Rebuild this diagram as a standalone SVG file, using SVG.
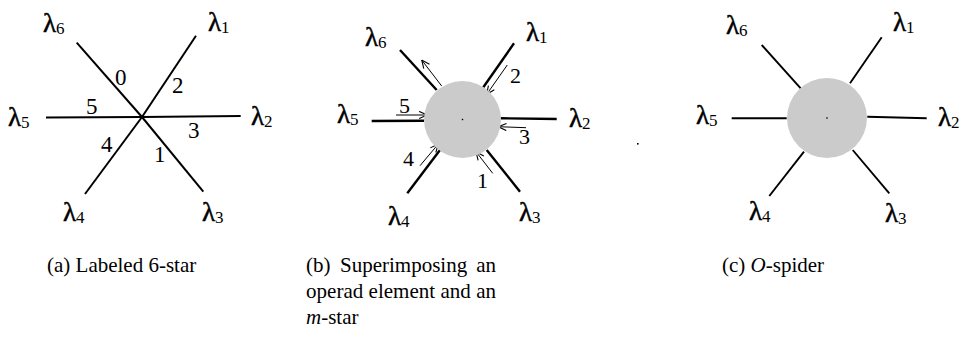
<svg xmlns="http://www.w3.org/2000/svg" width="962" height="354" viewBox="0 0 962 354">
<style>
text{font-family:"Liberation Serif","DejaVu Serif","Noto Serif",serif;fill:#000}
.lam{font-size:27px;stroke:#000;stroke-width:0.5}
.sub{font-size:17px;stroke:none}
.num{font-size:23px}
.numb{font-size:22px}
.cap{font-size:21px}
.ea{stroke:#000;stroke-width:2;fill:none}
.eb{stroke:#000;stroke-width:2.4;fill:none}
.ec{stroke:#000;stroke-width:1.9;fill:none}
.ar{stroke:#000;stroke-width:1;fill:none;marker-end:url(#ah)}
.hub{fill:#cbcbcb}
</style>
<defs>
<marker id="ah" viewBox="0 0 10 10" refX="9.5" refY="5" markerWidth="9" markerHeight="9" markerUnits="userSpaceOnUse" orient="auto">
<path d="M0.5,1 L9.5,5 L0.5,9" fill="none" stroke="#000" stroke-width="1.2"/>
</marker>
</defs>
<g id="connectors">
<g id="edges-a">
<line class="ea" x1="142" y1="117" x2="76.7" y2="42.7"/>
<line class="ea" x1="142" y1="117" x2="196" y2="35.7"/>
<line class="ea" x1="142" y1="117" x2="46" y2="117.5"/>
<line class="ea" x1="142" y1="117" x2="240.7" y2="116"/>
<line class="ea" x1="142" y1="117" x2="85" y2="194"/>
<line class="ea" x1="142" y1="117" x2="203.3" y2="191.7"/>
</g>
<g id="edges-b">
<line class="eb" x1="400" y1="50" x2="436.7" y2="90"/>
<line class="eb" x1="514" y1="43.3" x2="483.3" y2="87.3"/>
<line class="eb" x1="371.7" y1="121" x2="424" y2="120.7"/>
<line class="eb" x1="500.7" y1="118.3" x2="556.7" y2="119"/>
<line class="eb" x1="407.3" y1="193.3" x2="440" y2="150"/>
<line class="eb" x1="520" y1="191.7" x2="486.7" y2="150"/>
<line class="ar" x1="441.7" y1="86" x2="421.7" y2="60"/>
<line class="ar" x1="507.3" y1="65" x2="486.7" y2="94.3"/>
<line class="ar" x1="396" y1="115" x2="427.3" y2="115"/>
<line class="ar" x1="526" y1="127.7" x2="498.3" y2="126.7"/>
<line class="ar" x1="420" y1="165.7" x2="438.3" y2="144"/>
<line class="ar" x1="492.7" y1="173.3" x2="476" y2="151.7"/>
</g>
<g id="edges-c">
<line class="ec" x1="761.7" y1="45" x2="800.7" y2="88.3"/>
<line class="ec" x1="881.7" y1="37.3" x2="850" y2="83.3"/>
<line class="ec" x1="731.7" y1="118.3" x2="786.7" y2="118.3"/>
<line class="ec" x1="867.3" y1="116.7" x2="926.7" y2="118.3"/>
<line class="ec" x1="769.3" y1="196" x2="804" y2="151.7"/>
<line class="ec" x1="889.3" y1="193.3" x2="852.7" y2="150"/>
</g>
</g>
<g id="hub-b"><circle class="hub" cx="462.5" cy="119.5" r="38.5"/><rect x="461.8" y="118.8" width="1.4" height="1.4" fill="#000"/></g>
<g id="hub-c"><circle class="hub" cx="827" cy="118" r="40"/><rect x="826.3" y="117.3" width="1.4" height="1.4" fill="#000"/></g>
<rect id="stray-dot" x="637" y="143" width="1.6" height="1.6" fill="#000"/>
<g id="labels-a">
<g id="a-l6"><text class="lam" x="43" y="32">λ<tspan class="sub" dy="2">6</tspan></text></g>
<g id="a-l1"><text class="lam" x="208" y="31">λ<tspan class="sub" dy="2">1</tspan></text></g>
<g id="a-l5"><text class="lam" x="8" y="126">λ<tspan class="sub" dy="2">5</tspan></text></g>
<g id="a-l2"><text class="lam" x="251" y="125">λ<tspan class="sub" dy="2">2</tspan></text></g>
<g id="a-l4"><text class="lam" x="63" y="221">λ<tspan class="sub" dy="2">4</tspan></text></g>
<g id="a-l3"><text class="lam" x="202" y="221">λ<tspan class="sub" dy="2">3</tspan></text></g>
<text class="num" x="115" y="85">0</text>
<text class="num" x="172" y="93">2</text>
<text class="num" x="86" y="114">5</text>
<text class="num" x="188" y="138">3</text>
<text class="num" x="101" y="152">4</text>
<text class="num" x="154" y="162">1</text>
</g>
<g id="labels-b">
<g id="b-l6"><text class="lam" x="365" y="46">λ<tspan class="sub" dy="2">6</tspan></text></g>
<g id="b-l1"><text class="lam" x="526" y="41">λ<tspan class="sub" dy="2">1</tspan></text></g>
<g id="b-l5"><text class="lam" x="337" y="123">λ<tspan class="sub" dy="2">5</tspan></text></g>
<g id="b-l2"><text class="lam" x="569" y="127">λ<tspan class="sub" dy="2">2</tspan></text></g>
<g id="b-l4"><text class="lam" x="388" y="225">λ<tspan class="sub" dy="2">4</tspan></text></g>
<g id="b-l3"><text class="lam" x="519" y="221">λ<tspan class="sub" dy="2">3</tspan></text></g>
<text class="numb" x="510" y="83">2</text>
<text class="numb" x="399" y="113">5</text>
<text class="numb" x="519" y="144">3</text>
<text class="numb" x="403" y="166">4</text>
<text class="numb" x="477" y="188">1</text>
</g>
<g id="labels-c">
<g id="c-l6"><text class="lam" x="726" y="34">λ<tspan class="sub" dy="2">6</tspan></text></g>
<g id="c-l1"><text class="lam" x="893" y="31">λ<tspan class="sub" dy="2">1</tspan></text></g>
<g id="c-l5"><text class="lam" x="696" y="124">λ<tspan class="sub" dy="2">5</tspan></text></g>
<g id="c-l2"><text class="lam" x="938" y="126">λ<tspan class="sub" dy="2">2</tspan></text></g>
<g id="c-l4"><text class="lam" x="749" y="220">λ<tspan class="sub" dy="2">4</tspan></text></g>
<g id="c-l3"><text class="lam" x="885" y="222">λ<tspan class="sub" dy="2">3</tspan></text></g>
</g>
<g id="captions">
<text class="cap" x="47" y="272">(a) Labeled 6-star</text>
<text class="cap" x="306" y="272">(b)</text>
<text class="cap" x="340" y="272">Superimposing</text>
<text class="cap" x="496" y="272" text-anchor="end">an</text>
<text class="cap" x="306" y="298" textLength="190" lengthAdjust="spacing">operad element and an</text>
<text class="cap" x="306" y="324"><tspan font-style="italic">m</tspan>-star</text>
<text class="cap" x="722" y="272">(c) <tspan font-style="italic">O</tspan>-spider</text>
</g>
</svg>
